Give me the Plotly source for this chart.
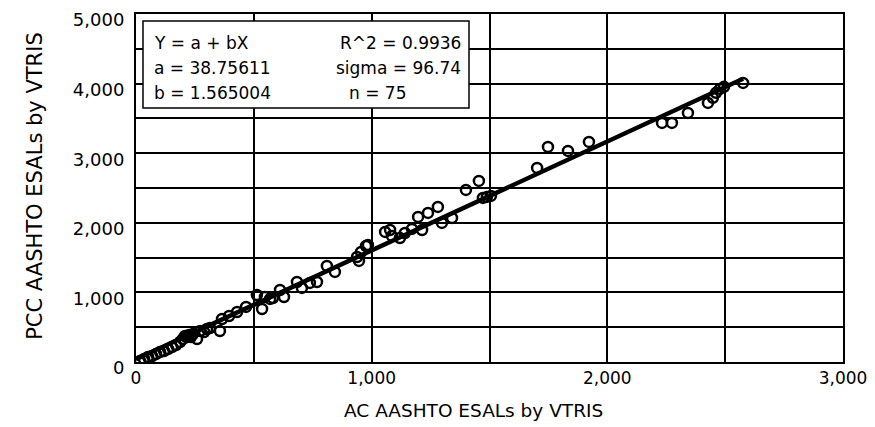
import plotly.graph_objects as go

# AC AASHTO ESALs by VTRIS (x) vs PCC AASHTO ESALs by VTRIS (y)
ac_esals = [17, 34, 51, 68, 85, 102, 119, 136, 153, 170, 187, 199, 208, 216, 225,
            233, 242, 259, 272, 289, 301, 314, 356, 365, 395, 429, 467, 513, 535, 547,
            569, 581, 611, 628, 683, 704, 738, 768, 810, 844, 938, 946, 955, 976, 984,
            1057, 1078, 1086, 1120, 1141, 1171, 1197, 1214, 1239, 1281, 1298, 1341, 1400, 1455, 1472,
            1489, 1506, 1702, 1748, 1833, 1922, 2232, 2274, 2342, 2427, 2448, 2461, 2478, 2495, 2576]
pcc_esals = [14, 43, 72, 86, 115, 144, 158, 187, 216, 244, 287, 331, 374, 359, 388,
             359, 402, 331, 446, 431, 474, 489, 446, 618, 661, 719, 791, 963, 762, 934,
             906, 920, 1035, 934, 1150, 1064, 1136, 1150, 1380, 1294, 1509, 1452, 1581, 1667, 1682,
             1869, 1897, 1811, 1782, 1854, 1912, 2084, 1897, 2142, 2228, 1998, 2070, 2472, 2602, 2357,
             2372, 2386, 2789, 3090, 3033, 3162, 3435, 3435, 3579, 3723, 3795, 3867, 3924, 3953, 4010]

fit_a = 38.75611
fit_b = 1.565004
fit_r2 = 0.9936
fit_sigma = 96.74
fit_n = 75

x_ticks = [0, 500, 1000, 1500, 2000, 2500, 3000]
x_labels = ["0", "", "1,000", "", "2,000", "", "3,000"]
y_ticks = [0, 500, 1000, 1500, 2000, 2500, 3000, 3500, 4000, 4500, 5000]
y_labels = ["0", "", "1,000", "", "2,000", "", "3,000", "", "4,000", "", "5,000"]

FONT = "DejaVu Sans"

line_x = [0, max(ac_esals)]
line_y = [fit_a + fit_b * v for v in line_x]

fig = go.Figure()
fig.add_trace(go.Scatter(x=line_x, y=line_y, mode="lines",
                         line=dict(color="black", width=4.5), showlegend=False,
                         hoverinfo="skip"))
fig.add_trace(go.Scatter(x=ac_esals, y=pcc_esals, mode="markers",
                         marker=dict(symbol="circle-open", size=10, color="black",
                                     line=dict(width=2.5, color="black")),
                         showlegend=False))

fig.update_layout(
    width=875, height=427,
    margin=dict(l=128, r=40, t=6, b=73, autoexpand=False),
    paper_bgcolor="white", plot_bgcolor="white",
    font=dict(family=FONT, color="black", size=16),
    xaxis=dict(range=[0, 3000], tickvals=x_ticks, ticktext=x_labels,
               showgrid=True, gridcolor="black", gridwidth=1.5,
               showline=True, linecolor="black", linewidth=2, mirror=True,
               zeroline=False, ticks="", ticklabeloverflow="allow", automargin=False,
               tickfont=dict(size=17, family=FONT)),
    yaxis=dict(range=[0, 5000], tickvals=y_ticks, ticktext=y_labels,
               showgrid=True, gridcolor="black", gridwidth=1.5,
               showline=True, linecolor="black", linewidth=2, mirror=True,
               zeroline=False, ticks="", ticklabelstandoff=6, ticklabeloverflow="allow",
               ticklabelshift=6,
               automargin=False, tickfont=dict(size=18, family=FONT)),
)

# statistics box
fig.add_shape(type="rect", xref="paper", yref="paper",
              x0=0.0099, x1=0.471, y0=0.730, y1=0.980,
              fillcolor="white", line=dict(color="black", width=1.5), layer="above")

def note(text, x, y, xanchor="left", size=17):
    fig.add_annotation(text=text, xref="paper", yref="paper", x=x, y=y,
                       xanchor=xanchor, yanchor="middle", showarrow=False,
                       font=dict(size=size, family=FONT, color="black"))

note("Y = a + bX", 0.0226, 0.917)
note(f"a = {fit_a}", 0.0226, 0.845)
note(f"b = {fit_b}", 0.0226, 0.773)
note(f"R^2 = {fit_r2}", 0.462, 0.917, xanchor="right")
note(f"sigma = {fit_sigma}", 0.462, 0.845, xanchor="right")
note(f"n = {fit_n}", 0.342, 0.773, xanchor="center")

# axis titles
fig.add_annotation(text="AC AASHTO ESALs by VTRIS", xref="paper", yref="paper",
                   x=0.477, y=-0.138, xanchor="center", yanchor="middle",
                   showarrow=False, font=dict(size=18.5, family=FONT, color="black"))
fig.add_annotation(text="PCC AASHTO ESALs by VTRIS", xref="paper", yref="paper",
                   x=-0.143, y=0.506, xanchor="center", yanchor="middle", textangle=-90,
                   showarrow=False, font=dict(size=21, family=FONT, color="black"))

fig.write_html("out.html")
